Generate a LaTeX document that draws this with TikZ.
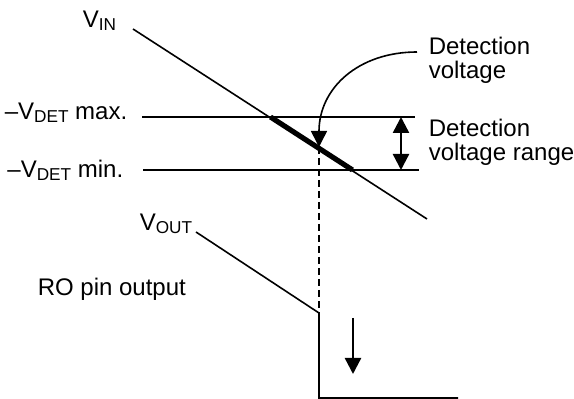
\documentclass[tikz,border=0pt]{standalone}
\usepackage{fontspec}
\setmainfont{Liberation Sans}
\usepackage{tikz}
\usetikzlibrary{arrows.meta,positioning}
\tikzset{
    myptr/.style={
        -{Triangle[length=8pt,width=8pt]},
        line width=1.2pt
    },
    mydptr/.style={
        {Triangle[length=8pt,width=8pt]}-{Triangle[length=8pt,width=8pt]},
        line width=1.2pt
    },
    lbl/.style={
        inner sep=0pt,
        font=\fontsize{12}{12}\selectfont
    }
}
\newcommand{\lowsub}[1]{\raisebox{-0.2ex}{\fontsize{8.6}{9}\selectfont #1}}

\begin{document}
\begin{tikzpicture}[x=0.5pt,y=-0.5pt,line width=0.8pt]
        \useasboundingbox (0,0) rectangle (574,399);
        % labels on the left
        \node[lbl,anchor=base west] (vin) at (82,28) {V\lowsub{IN}};
        \node[lbl,anchor=base east] (vmax) at (128,120) {\textendash V\lowsub{DET} max.};
        \node[lbl,anchor=base east] (vmin) at (124,178) {\textendash V\lowsub{DET} min.};
        \node[lbl,anchor=base west] (vout) at (139,231) {V\lowsub{OUT}};
        \node[lbl,anchor=base west] (ro) at (37,296) {RO pin output};
        % labels on the right
        \node[lbl,anchor=west,align=left] (detv) at (428,60) {Detection\\voltage};
        \node[lbl,anchor=west,align=left] (detr) at (428,142) {Detection\\voltage range};

        % draw level lines
        \draw (142,117) coordinate (maxl) -- (415,117) coordinate (maxr);
        \draw (143,170) coordinate (minl) -- (419,170) coordinate (minr);

        % draw input line
        \coordinate (in0) at (133,29);
        \coordinate (in1) at (427,219);
        \draw (in0) -- (in1);
        \draw[line width=2.6pt] (270.5,117) -- (352.5,170);

        % draw output
        \coordinate (out0) at (196,232);
        \coordinate (outk) at (319,313);
        \coordinate (outb) at (319,398);
        \coordinate (oute) at (458,398);
        \draw (out0) -- (outk) -- (outb) -- (oute);
        \coordinate (det) at (319,147);
        \draw[dashed,dash pattern=on 3.5pt off 2pt] (det) -- (outk);

        % draw arrows
        \draw[myptr,line width=0.8pt] (417,52) to[out=180,in=90,looseness=1.1] (det);
        \draw[mydptr] (401,117) -- (401,170);
        \draw[myptr] (353,318) -- (353,374);
    \end{tikzpicture}
\end{document}
